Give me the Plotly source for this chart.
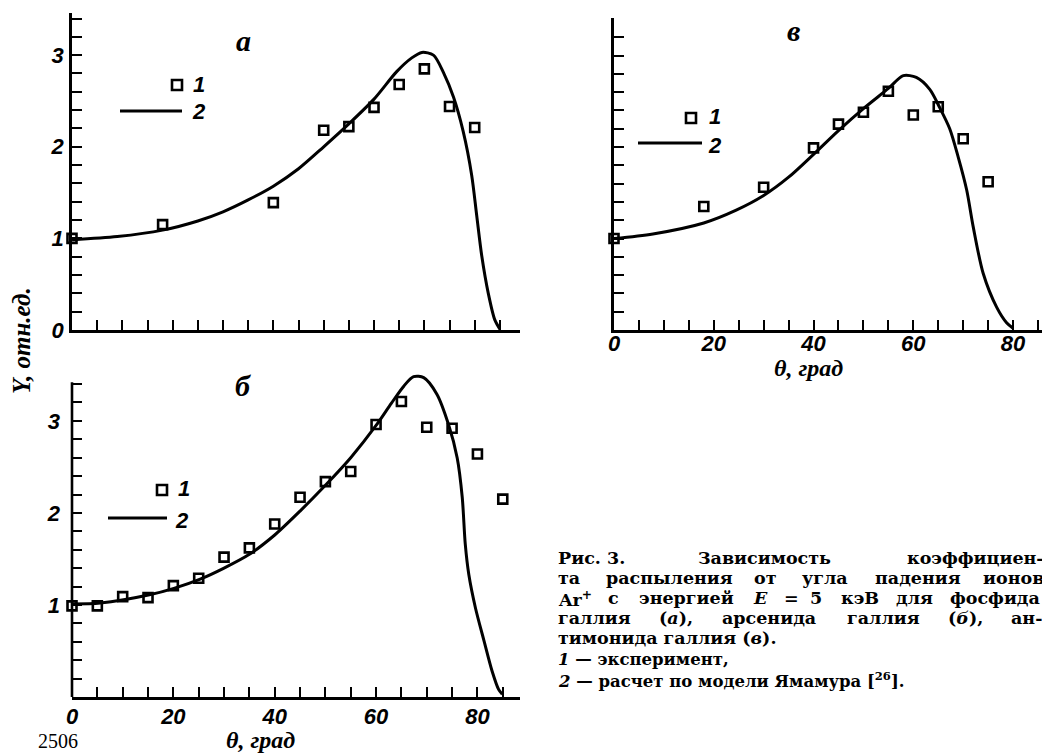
import re
import plotly.graph_objects as go

# ---------------- data ----------------
# panel а : GaP
a_exp_theta = [0, 18, 40, 50, 55, 60, 65, 70, 75, 80]
a_exp_y = [1.00, 1.15, 1.39, 2.18, 2.22, 2.43, 2.68, 2.85, 2.44, 2.21]
a_calc_theta = [0, 9, 18, 25, 30, 35, 40, 45, 50, 55, 60, 64.5, 67.5, 69.5,
                71.8, 73.8, 75.8, 77.7, 79.4, 80.4, 81.4, 82.7, 84.0, 85.0]
a_calc_y = [0.985, 1.02, 1.09, 1.19, 1.29, 1.42, 1.57, 1.76, 2.00, 2.25, 2.52, 2.82, 2.97, 3.03,
            3.00, 2.81, 2.54, 2.17, 1.69, 1.25, 0.81, 0.40, 0.11, 0.01]

# panel б : GaAs
b_exp_theta = [0, 5, 10, 15, 20, 25, 30, 35, 40, 45, 50, 55, 60, 65, 70, 75, 80, 85]
b_exp_y = [0.99, 0.99, 1.09, 1.08, 1.21, 1.29, 1.52, 1.62, 1.88, 2.17, 2.34, 2.45, 2.96,
           3.21, 2.93, 2.92, 2.64, 2.15]
b_calc_theta = [0, 5.6, 15.3, 20.1, 25.3, 30, 35, 40, 45, 50, 55, 60, 63,
                65.5, 67.4, 69.4, 72.0, 74.3, 76.0, 77.0, 77.6, 78.3, 79.6, 81.3, 82.9, 84.2, 84.9]
b_calc_y = [1.01, 1.02, 1.11, 1.18, 1.28, 1.40, 1.55, 1.76, 2.02, 2.30, 2.60, 2.95, 3.19,
            3.38, 3.48, 3.47, 3.29, 2.96, 2.60, 2.17, 1.66, 1.33, 0.97, 0.61, 0.28, 0.08, 0.03]

# panel в : GaSb
c_exp_theta = [0, 18, 30, 40, 45, 50, 55, 60, 65, 70, 75]
c_exp_y = [1.00, 1.35, 1.56, 1.99, 2.25, 2.38, 2.61, 2.35, 2.44, 2.09, 1.62]
c_calc_theta = [0, 7.8, 18.0, 24.5, 30, 35, 40, 45, 50, 55, 58.0, 60.6, 63.3,
                65.2, 67.3, 69.0, 70.7, 72.0, 74.0, 76.7, 78.7, 80.0]
c_calc_y = [1.00, 1.05, 1.17, 1.31, 1.47, 1.67, 1.92, 2.18, 2.42, 2.64, 2.78, 2.76, 2.63,
            2.44, 2.20, 1.89, 1.53, 1.13, 0.62, 0.25, 0.08, 0.02]

x_tick_vals = [0, 20, 40, 60, 80]
x_tick_text = ["0", "20", "40", "60", "80"]
y_tick_vals = [0, 1, 2, 3]
y_tick_text = ["0", "1", "2", "3"]

panel_letters = ["а", "б", "в"]
legend_labels = ["1", "2"]
y_title = "Y, отн.ед."
x_title = "θ, град"
page_number = "2506"
caption_justified = [
    ["<b>Рис. 3.</b>", "Зависимость", "коэффициен-"],
    ["та", "распыления", "от", "угла", "падения", "ионов"],
    ["Ar<sup>+</sup>", "с", "энергией", "<i>E</i>", "=", "5", "кэВ", "для", "фосфида"],
    ["галлия", "(<i>а</i>),", "арсенида", "галлия", "(<i>б</i>),", "ан-"],
]
caption_plain = [
    "тимонида галлия (<i>в</i>).",
    "<i>1</i> — эксперимент,",
    "<i>2</i> — расчет по модели Ямамура [<sup>26</sup>].",
]

# ---------------- layout helpers ----------------
# page pixels -> paper fractions (the page body adds an 8 px margin)
OFF = 8
W, H = 1050 - OFF, 754 - OFF
def fx(p):
    return (p - OFF) / W
def fy(p):
    return 1 - (p - OFF) / H

NUM_FONT = dict(family="Liberation Sans, Arial, sans-serif", size=22, color="black",
                weight="bold", style="italic")
TXT_FONT = dict(family="Liberation Serif, Times New Roman, serif", size=24, color="black",
                weight="bold", style="italic")
CAP_FONT = dict(family="DejaVu Serif, serif", size=17.5, color="black", weight="bold")

fig = go.Figure()

def add_panel(xs, ys, cx, cy, xa, ya):
    fig.add_trace(go.Scatter(x=cx, y=cy, mode="lines", xaxis=xa, yaxis=ya,
                             line=dict(color="black", width=3, shape="spline", smoothing=0.8),
                             showlegend=False, hoverinfo="skip"))
    fig.add_trace(go.Scatter(x=xs, y=ys, mode="markers", xaxis=xa, yaxis=ya, cliponaxis=False,
                             marker=dict(symbol="square-open", size=9, color="black",
                                         line=dict(color="black", width=2.6)),
                             showlegend=False))

add_panel(a_exp_theta, a_exp_y, a_calc_theta, a_calc_y, "x", "y")
add_panel(b_exp_theta, b_exp_y, b_calc_theta, b_calc_y, "x2", "y2")
add_panel(c_exp_theta, c_exp_y, c_calc_theta, c_calc_y, "x3", "y3")

def xaxis(dom, rng, anchor, labels, standoff):
    return dict(domain=[fx(dom[0]), fx(dom[1])], range=rng, anchor=anchor, automargin=False,
                showline=True, linecolor="black", linewidth=2.6, showgrid=False, zeroline=False,
                ticks="inside", ticklen=10, tickwidth=2, tickcolor="black",
                tickvals=x_tick_vals, ticktext=x_tick_text, showticklabels=labels,
                tickfont=NUM_FONT, ticklabelstandoff=standoff,
                minor=dict(dtick=5, tick0=0, ticks="inside", ticklen=10, tickwidth=2,
                           tickcolor="black", showgrid=False))

def yaxis(dom, rng, anchor, labels, tv, tt, standoff, line=True):
    return dict(domain=[fy(dom[1]), fy(dom[0])], range=rng, anchor=anchor, automargin=False,
                showline=line, linecolor="black", linewidth=2.6, showgrid=False, zeroline=False,
                ticks="inside", ticklen=10, tickwidth=2, tickcolor="black",
                tickvals=tv, ticktext=tt, showticklabels=labels,
                tickfont=NUM_FONT, ticklabelstandoff=standoff,
                minor=dict(dtick=0.2, tick0=0, ticks="inside", ticklen=10, tickwidth=2,
                           tickcolor="black", showgrid=False))

fig.update_layout(
    width=W, height=H, margin=dict(l=0, r=0, t=0, b=0, autoexpand=False),
    paper_bgcolor="white", plot_bgcolor="white", showlegend=False,
    xaxis=xaxis((72, 520), [0, 89.0], "y", False, 0),
    yaxis=yaxis((13, 330), [0, 3.46], "x", True, y_tick_vals, y_tick_text, 1),
    xaxis2=xaxis((72, 520), [0, 88.4], "y2", True, -2),
    yaxis2=yaxis((373, 697), [0, 3.52], "x2", True, y_tick_vals[1:], y_tick_text[1:], 11,
                 line=False),
    xaxis3=xaxis((614, 1047), [0, 86.8], "y3", True, -8),
    yaxis3=yaxis((18, 330), [0, 3.41], "x3", False, y_tick_vals, y_tick_text, 1),
)

shapes = []
# y axis line of panel б (shorter than the plotted range)
shapes.append(dict(type="line", xref="x2 domain", yref="y2", x0=0, x1=0, y0=0, y1=3.42,
                   line=dict(color="black", width=2.6)))

# legend glyphs: (square centre, line x0/x1/y, "1" pos, "2" pos)
legend_spots = [
    ((177, 85), (120, 182, 111), (199, 85), (199, 112)),
    ((162, 490), (108, 167, 518), (184, 488), (182, 520)),
    ((691, 118), (638, 702, 143), (715, 117), (715, 145)),
]
ann = []
for sq, ln, t1, t2 in legend_spots:
    s = 5
    shapes.append(dict(type="rect", xref="paper", yref="paper",
                       x0=fx(sq[0] - s), x1=fx(sq[0] + s), y0=fy(sq[1] + s), y1=fy(sq[1] - s),
                       line=dict(color="black", width=2.6), fillcolor="rgba(0,0,0,0)"))
    shapes.append(dict(type="line", xref="paper", yref="paper",
                       x0=fx(ln[0]), x1=fx(ln[1]), y0=fy(ln[2]), y1=fy(ln[2]),
                       line=dict(color="black", width=3)))
    ann.append(dict(text=legend_labels[0], x=fx(t1[0]), y=fy(t1[1]), font=NUM_FONT))
    ann.append(dict(text=legend_labels[1], x=fx(t2[0]), y=fy(t2[1]), font=NUM_FONT))

# panel letters
for letter, (x, y) in zip(panel_letters, [(243, 40), (243, 385), (793, 30)]):
    ann.append(dict(text=letter, x=fx(x), y=fy(y), font=dict(TXT_FONT, size=30)))

# axis titles
ann.append(dict(text=y_title, x=fx(21), y=fy(341), textangle=-90, font=dict(TXT_FONT, size=25)))
ann.append(dict(text=x_title, x=fx(260), y=fy(740), font=TXT_FONT))
ann.append(dict(text=x_title, x=fx(808), y=fy(368), font=TXT_FONT))

# caption (justified lines: words spread between left and right margins)
CX, CR = 556, 1040
def est_width(t, size):
    t = re.sub(r"<[^>]+>", "", t)
    w = 0
    for ch in t:
        if ch in ".,()-=+[] ":
            w += 0.42
        elif ch in "фыжшщмюЗ":
            w += 0.92
        else:
            w += 0.68
    return w * size

cap_y = [558, 578, 598, 618, 638, 659, 680]
for i, words in enumerate(caption_justified):
    size = CAP_FONT["size"]
    widths = [est_width(w, size) for w in words]
    gap = (CR - CX - sum(widths)) / (len(words) - 1)
    x = CX
    for w, wd in zip(words, widths):
        ann.append(dict(text=w, x=fx(x), y=fy(cap_y[i]), xanchor="left", font=CAP_FONT))
        x += wd + gap
ann.append(dict(text=caption_plain[0], x=fx(CX), y=fy(cap_y[4]), xanchor="left", font=CAP_FONT))
ann.append(dict(text=caption_plain[1], x=fx(CX), y=fy(cap_y[5]), xanchor="left",
                font=dict(CAP_FONT, size=16.5)))
ann.append(dict(text=caption_plain[2], x=fx(CX), y=fy(cap_y[6]), xanchor="left",
                font=dict(CAP_FONT, size=16.5)))

# page number
ann.append(dict(text=page_number, x=fx(58), y=fy(754), yanchor="bottom",
                font=dict(family="Liberation Serif, serif", size=20, color="black")))

for a in ann:
    a.setdefault("xref", "paper")
    a.setdefault("yref", "paper")
    a.setdefault("showarrow", False)
    a.setdefault("xanchor", "center")
    a.setdefault("yanchor", "middle")

fig.update_layout(shapes=shapes, annotations=ann)
fig.write_html("out.html")
